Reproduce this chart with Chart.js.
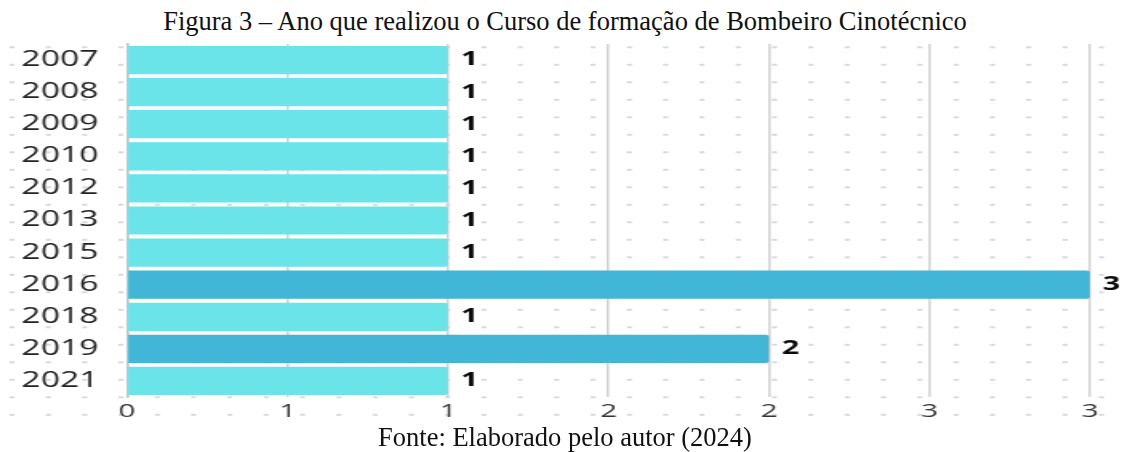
<!DOCTYPE html>
<html>
<head>
<meta charset="utf-8">
<script src="https://cdn.jsdelivr.net/npm/chart.js@4"></script>
<style>
  html, body { margin: 0; padding: 0; background: #fff; }
  body { width: 1130px; height: 452px; position: relative; overflow: hidden; }
  .caption { position: absolute; left: 0; width: 1130px; text-align: center; font-family: 'Liberation Serif', serif; font-size: 26.5px; color: #111; line-height: 1; }
  #title { top: 8px; }
  #source { top: 424px; }
  #bar-chart { position: absolute; left: 0; top: 40px; }
</style>
</head>
<body>
<div id="title" class="caption">Figura 3 – Ano que realizou o Curso de formação de Bombeiro Cinotécnico</div>
<canvas id="bar-chart" width="706" height="385" style="width:1130px;height:385px"></canvas>
<div id="source" class="caption">Fonte: Elaborado pelo autor (2024)</div>
<script>
const years = ['2007', '2008', '2009', '2010', '2012', '2013', '2015', '2016', '2018', '2019', '2021']
const counts = [1, 1, 1, 1, 1, 1, 1, 3, 1, 2, 1]
const xTickLabels = ['0', '1', '1', '2', '2', '3', '3']
const barColors = ['#6ae4e8', '#6ae4e8', '#6ae4e8', '#6ae4e8', '#6ae4e8', '#6ae4e8', '#6ae4e8', '#42b6d6', '#6ae4e8', '#42b6d6', '#6ae4e8']

// the original picture is stretched sideways, so the canvas is drawn narrow and widened by css
const S = 1.6

// small dashes covering the background
const dotGrid = {
  id: 'dotGrid',
  beforeDraw (chart) {
    const { ctx } = chart
    ctx.save()
    ctx.fillStyle = '#d3d9e6'
    for (let j = 0; j < 22; j++) {
      for (let k = 0; k < 31; k++) {
        ctx.fillRect((9.5 + 36.3 * k) / S, 6.3 + 17.5 * j, 5 / S, 2)
      }
    }
    ctx.restore()
  }
}

// value written after each bar
const valueLabels = {
  id: 'valueLabels',
  afterDatasetsDraw (chart) {
    const { ctx } = chart
    const meta = chart.getDatasetMeta(0)
    ctx.save()
    ctx.font = 'bold 19px "Open Sans"'
    ctx.fillStyle = '#0a0a0a'
    ctx.textAlign = 'left'
    ctx.textBaseline = 'middle'
    meta.data.forEach((bar, i) => {
      ctx.fillText(counts[i], bar.x + 8, bar.y)
    })
    ctx.restore()
  }
}

const chart = new Chart(document.querySelector('#bar-chart'), {
  type: 'bar',
  data: {
    labels: years,
    datasets: [{
      data: counts,
      backgroundColor: barColors,
      borderRadius: 2,
      borderSkipped: 'start',
      categoryPercentage: 1,
      barPercentage: 0.88
    }]
  },
  options: {
    indexAxis: 'y',
    responsive: false,
    animation: false,
    layout: { padding: { top: 4, right: 25, bottom: 0, left: 0 } },
    plugins: {
      legend: { display: false },
      title: { display: false },
      tooltip: { enabled: false }
    },
    scales: {
      x: {
        min: 0,
        max: 3,
        afterFit (scale) { scale.height = 28 },
        ticks: {
          stepSize: 0.5,
          padding: 4,
          color: '#333',
          font: { family: 'Open Sans', size: 18.5 },
          callback: (value, index) => xTickLabels[index]
        },
        grid: { color: '#d2d2d2', lineWidth: 1.5, drawTicks: false },
        border: { display: false }
      },
      y: {
        afterFit (scale) {
          scale.width = 79.4
          scale.paddingTop = 0
          scale.paddingBottom = 0
        },
        ticks: {
          padding: 10,
          color: '#222',
          font: { family: 'Open Sans', size: 21 }
        },
        grid: { display: false },
        border: { color: '#c4c4c4', width: 1.5 }
      }
    }
  },
  plugins: [dotGrid, valueLabels]
})
</script>
</body>
</html>
